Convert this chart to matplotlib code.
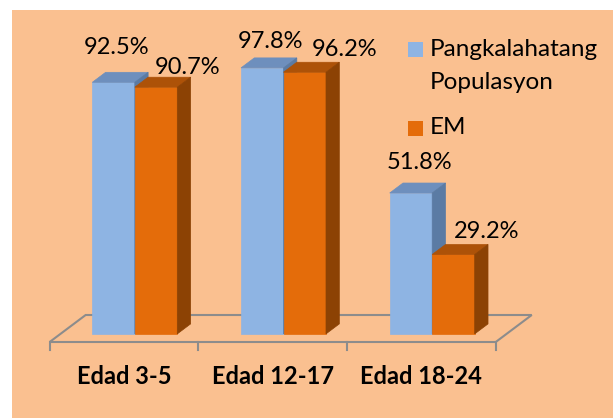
import numpy as np
import matplotlib.pyplot as plt
from matplotlib.patches import Polygon, Rectangle

# --- datos
categories = ["Edad 3-5", "Edad 12-17", "Edad 18-24"]
series_names = ["Pangkalahatang\nPopulasyon", "EM"]
populasyon = [92.5, 97.8, 51.8]
em = [90.7, 96.2, 29.2]

# label offsets (px) from the front-top centre of each bar
off_pop = [(3, 35), (8, 26), (9, 31)]
off_em = [(32, 20), (40, 23), (33, 23)]

# colours: front, top, side
blue = ("#8EB4E3", "#6E8FBD", "#5B7BA4")
orange = ("#E46C0A", "#AD5208", "#8C4204")
bg = "#FAC090"

plt.rcParams["font.family"] = ["Lato", "DejaVu Sans"]

W, H = 613, 418
fig = plt.figure(figsize=(W / 100, H / 100), dpi=100)
fig.patch.set_facecolor("white")
fig.add_artist(Rectangle((12 / W, 0), 1, 1 - 10 / H, transform=fig.transFigure,
                         facecolor=bg, edgecolor="none", zorder=0))

ax = fig.add_axes([0, 0, 1, 1])
ax.set_axis_off()

# --- escala: px por categoria y por %
sx, sy = 148.7, 2.72
x0_px, y0_px = 124, 342
ax.set_xlim(-x0_px / sx, (W - x0_px) / sx)
ax.set_ylim(-(H - y0_px) / sy, y0_px / sy)

# proyeccion oblicua (profundidad del piso: 36 px, 27 px)
ddx, ddy = 36 / sx, 27 / sy


def proj(x, y, z):
    return (x + z * ddx, y + z * ddy)


# --- piso
n = len(categories)
floor = [proj(-0.5, 0, 0), proj(n - 0.5, 0, 0), proj(n - 0.5, 0, 1), proj(-0.5, 0, 1)]
ax.add_patch(Polygon(floor, closed=True, facecolor="none", edgecolor="#8C8C8C",
                     lw=1.5, zorder=1))
for t in np.arange(-0.5, n, 1.0):
    ax.plot([t, t], [0, -8 / sy], color="#8C8C8C", lw=1.5, zorder=1)

bw = 42.5 / sx
z0, z1 = 0.3, 0.67


def bar3d(xa, xb, h, cols):
    front = [proj(xa, 0, z0), proj(xb, 0, z0), proj(xb, h, z0), proj(xa, h, z0)]
    top = [proj(xa, h, z0), proj(xb, h, z0), proj(xb, h, z1), proj(xa, h, z1)]
    side = [proj(xb, 0, z0), proj(xb, 0, z1), proj(xb, h, z1), proj(xb, h, z0)]
    for pts, c in zip((front, top, side), cols):
        ax.add_patch(Polygon(pts, closed=True, facecolor=c, edgecolor=c, lw=0.5, zorder=2))


for i in range(n):
    bar3d(i - bw, i, populasyon[i], blue)
    bar3d(i, i + bw, em[i], orange)

for i in range(n):
    for val, xc, off in ((populasyon[i], i - bw / 2, off_pop[i]), (em[i], i + bw / 2, off_em[i])):
        ax.annotate(f"{val}%", xy=proj(xc, val, z0), xytext=(off[0] * 0.72, off[1] * 0.72),
                    textcoords="offset points", ha="center", va="center",
                    fontsize=17, color="black", zorder=5)
    ax.text(i, -(376 - y0_px) / sy, categories[i], ha="center", va="center",
            fontsize=17, fontweight="bold", color="black")

# --- leyenda
fig.add_artist(Rectangle((408 / W, 1 - 57 / H), 15 / W, 15 / H, transform=fig.transFigure,
                         facecolor=blue[0], edgecolor="none"))
fig.add_artist(Rectangle((408 / W, 1 - 136 / H), 15 / W, 15 / H, transform=fig.transFigure,
                         facecolor=orange[0], edgecolor="none"))
fig.text(430 / W, 1 - 66 / H, series_names[0], ha="left", va="center",
         fontsize=17.5, linespacing=1.65)
fig.text(430 / W, 1 - 128 / H, series_names[1], ha="left", va="center", fontsize=17.5)

fig.savefig("out.png", dpi=100)
